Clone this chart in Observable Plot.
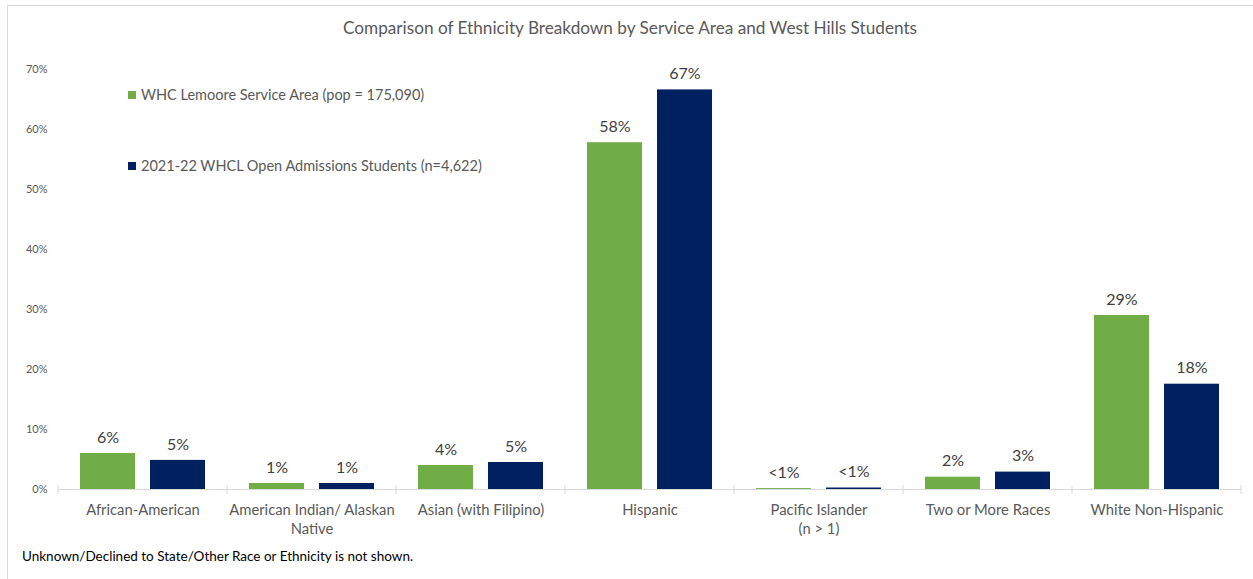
<!DOCTYPE html>
<html>
<head>
<meta charset="utf-8">
<script src="https://cdn.jsdelivr.net/npm/d3@7"></script>
<script src="https://cdn.jsdelivr.net/npm/@observablehq/plot@0.6"></script>
<style>
  html, body { margin: 0; padding: 0; background: #fff; }
  body { width: 1253px; height: 579px; overflow: hidden; position: relative; font-family: Lato, "Open Sans", sans-serif; }
  #frame { position: absolute; left: 7px; top: 5px; width: 1300px; height: 620px; border-top: 1px solid #d9d9d9; border-left: 1px solid #d9d9d9; pointer-events: none; }
  #title { height: 55px; box-sizing: border-box; padding-top: 18px; line-height: 20px; font-size: 17.2px; color: #595959; text-align: center; padding-left: 7px; }
  #chart { height: 490px; position: relative; }
  #chart svg { display: block; }
  #note { margin-top: 3px; line-height: 16px; font-size: 13.5px; color: #000; padding-left: 22px; }
  #legend { position: absolute; left: 128px; top: 0; font-size: 14.5px; color: #595959; }
  .item { position: absolute; white-space: nowrap; line-height: 18px; }
  .sw { display: inline-block; width: 8px; height: 8px; margin-right: 5px; vertical-align: 1px; }
</style>
</head>
<body>
<div id="frame"></div>
<div id="title">Comparison of Ethnicity Breakdown by Service Area and West Hills Students</div>
<div id="chart"><div id="legend"></div></div>
<div id="note">Unknown/Declined to State/Other Race or Ethnicity is not shown.</div>
<script>
const categories = ["African-American", "American Indian/ Alaskan Native", "Asian (with Filipino)", "Hispanic", "Pacific Islander (n > 1)", "Two or More Races", "White Non-Hispanic"];
const categoryLabels = ["African-American", "American Indian/ Alaskan\nNative", "Asian (with Filipino)", "Hispanic", "Pacific Islander\n(n > 1)", "Two or More Races", "White Non-Hispanic"];
const series = ["WHC Lemoore Service Area (pop = 175,090)", "2021-22 WHCL Open Admissions Students (n=4,622)"];
const serviceArea = [6.0, 1.0, 4.0, 57.8, 0.15, 2.05, 29.0];
const students = [4.85, 1.0, 4.5, 66.6, 0.25, 2.9, 17.55];
const serviceLabels = ["6%", "1%", "4%", "58%", "<1%", "2%", "29%"];
const studentLabels = ["5%", "1%", "5%", "67%", "<1%", "3%", "18%"];
const yTicks = [0, 10, 20, 30, 40, 50, 60, 70];
const colors = ["#70AD47", "#002060"];

const data = [];
categories.forEach((c, i) => {
  data.push({category: c, series: series[0], value: serviceArea[i], label: serviceLabels[i]});
  data.push({category: c, series: series[1], value: students[i], label: studentLabels[i]});
});
const labelOf = new Map(categories.map((c, i) => [c, categoryLabels[i]]));

const chart = Plot.plot({
  width: 1253,
  height: 490,
  marginLeft: 55,
  marginRight: 9,
  marginTop: 14,
  marginBottom: 56,
  style: {fontFamily: "Lato, 'Open Sans', sans-serif", background: "transparent"},
  fx: {domain: categories, padding: 0, label: null},
  x: {domain: series, paddingInner: 0.2113, paddingOuter: 0.2958, axis: null},
  y: {domain: [0, 70], label: null},
  color: {domain: series, range: colors},
  marks: [
    Plot.axisY({ticks: yTicks, tickFormat: d => d + "%", tickSize: 0, tickPadding: 11, fontSize: 11, fill: "#595959", label: null}),
    Plot.axisFx({anchor: "bottom", tickSize: 0, tickPadding: 12, fontSize: 14.8, fill: "#595959", label: null, tickFormat: d => labelOf.get(d), lineHeight: 1.3}),
    Plot.ruleY([0], {stroke: "#d9d9d9", strokeWidth: 1}),
    Plot.barY(data, {fx: "category", x: "series", y: "value", fill: "series"}),
    Plot.text(data, {fx: "category", x: "series", y: "value", text: "label", dy: -16, fontSize: 16, fill: "#404040"})
  ]
});

const holder = document.getElementById("chart");
holder.insertBefore(chart, holder.firstChild);

// category separator ticks, placed via the fx / y scales
const fx = chart.scale("fx");
const ys = chart.scale("y");
const y0 = ys.apply(0);
const edges = categories.map(c => fx.apply(c));
edges.push(fx.apply(categories[categories.length - 1]) + fx.bandwidth);
d3.select(chart).append("g")
  .attr("stroke", "#d9d9d9")
  .selectAll("line").data(edges).join("line")
  .attr("x1", d => d).attr("x2", d => d)
  .attr("y1", y0 - 4).attr("y2", y0 + 5);

// legend inside the plot area
const legend = d3.select("#legend");
const legendY = [ys.apply(65.7), ys.apply(53.9)];
series.forEach((s, i) => {
  const it = legend.append("div").attr("class", "item").style("top", (legendY[i] - 9) + "px");
  it.append("span").attr("class", "sw").style("background", colors[i]);
  it.append("span").text(s);
});
</script>
</body>
</html>
